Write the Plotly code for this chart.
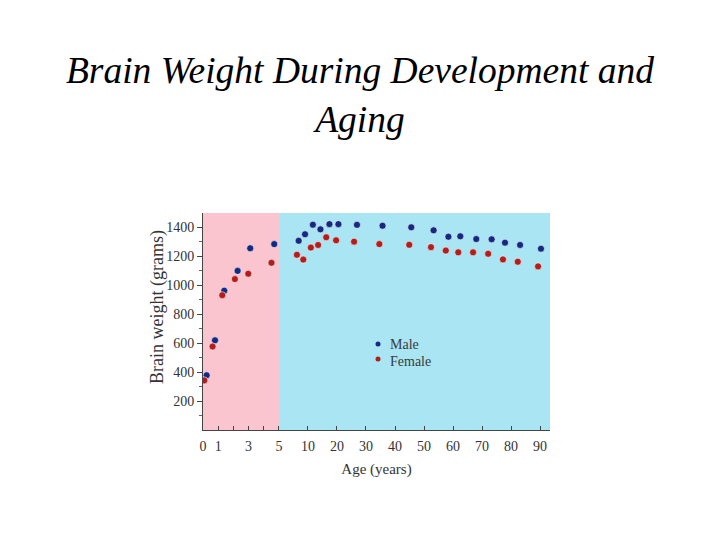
import numpy as np
import plotly.graph_objects as go

# ---- data ----
male_age = [0.24, 0.79, 1.40, 2.28, 3.11, 4.69, 8.4, 9.5, 11.7, 14.3, 17.4, 20.5,
            26.9, 35.7, 45.6, 53.3, 58.4, 62.5, 68.0, 73.3, 77.9, 83.1, 90.3]
male_wt = [378, 620, 963, 1100, 1256, 1285, 1308, 1353, 1419, 1387, 1423, 1423,
           1418, 1412, 1401, 1380, 1336, 1339, 1320, 1318, 1295, 1279, 1253]
female_age = [0.09, 0.63, 1.27, 2.10, 2.98, 4.51, 8.1, 9.2, 11.0, 13.5, 16.3, 19.7,
              25.9, 34.6, 44.9, 52.4, 57.5, 61.8, 66.9, 72.1, 77.2, 82.3, 89.3]
female_wt = [343, 577, 932, 1043, 1080, 1156, 1211, 1178, 1261, 1279, 1332, 1311,
             1302, 1285, 1280, 1264, 1240, 1228, 1228, 1218, 1179, 1163, 1131]

series_names = ["Male", "Female"]
x_tick_ages = [0, 1, 2, 3, 4, 5, 10, 20, 30, 40, 50, 60, 70, 80, 90]
x_tick_text = ["0", "1", "", "3", "", "5", "10", "20", "30", "40", "50", "60", "70", "80", "90"]
y_tick_vals = [200, 400, 600, 800, 1000, 1200, 1400]

# ---- broken age scale: 0-5 linear (1 unit/yr), then equal-width segments 5-10, 10-20, ... ----
SEG = 1.911
scale_ages = [0, 5, 10, 20, 30, 40, 50, 60, 70, 80, 90, 100]
scale_pos = [0, 5] + [5 + SEG * i for i in range(1, 11)]


def age_scale(a):
    return np.interp(np.asarray(a, dtype=float), scale_ages, scale_pos)


X_END = 22.85
serif = "Liberation Serif, Times New Roman, serif"
male_col = "#14297f"
female_col = "#b01e1e"
text_col = "#333333"

fig = go.Figure()
for name, ages, wts, col in [(series_names[0], male_age, male_wt, male_col),
                             (series_names[1], female_age, female_wt, female_col)]:
    fig.add_trace(go.Scatter(x=age_scale(ages), y=wts, mode="markers", name=name, showlegend=False,
                             marker=dict(color=col, size=7,
                                         line=dict(color="rgba(255,255,255,0.55)", width=1))))

fig.add_shape(type="rect", xref="x", yref="paper", x0=0, x1=5, y0=0, y1=1,
              fillcolor="#fac5ce", line_width=0, layer="below")
fig.add_shape(type="rect", xref="x", yref="paper", x0=5, x1=X_END, y0=0, y1=1,
              fillcolor="#a9e5f3", line_width=0, layer="below")

# in-plot key (as in the printed figure)
PW, PH, L, T = 347, 217, 203, 213


def px_x(p):
    return (p - L) / PW


def px_y(p):
    return 1 - (p - T) / PH


for name, col, ym, yt in [(series_names[0], male_col, 344, 344), (series_names[1], female_col, 359, 361)]:
    fig.add_shape(type="circle", xref="paper", yref="paper",
                  x0=px_x(375.5), x1=px_x(380.5), y0=px_y(ym + 2.5), y1=px_y(ym - 2.5),
                  fillcolor=col, line_width=0)
    fig.add_annotation(text=name, xref="paper", yref="paper", x=px_x(388), y=px_y(yt),
                       xanchor="left", yanchor="middle", showarrow=False,
                       font=dict(family=serif, size=14, color="#3a3a3a"))

# y-axis title
fig.add_annotation(text="Brain weight (grams)", xref="paper", yref="paper",
                   x=px_x(157), y=px_y(307), xanchor="center", yanchor="middle",
                   textangle=-90, showarrow=False,
                   font=dict(family=serif, size=18, color=text_col))

fig.update_layout(
    width=720, height=540,
    margin=dict(l=L, r=720 - L - PW, t=T, b=540 - T - PH),
    paper_bgcolor="white", plot_bgcolor="rgba(0,0,0,0)",
    title=dict(text="<i>Brain Weight During Development and</i><br><i>Aging</i>",
               x=0.5, xref="container", xanchor="center",
               y=1 - 83 / 540, yref="container", yanchor="middle",
               font=dict(family=serif, size=37.5, color="black")),
    font=dict(family=serif, size=14, color=text_col),
    showlegend=False,
)
fig.update_xaxes(range=[0, X_END], tickmode="array",
                 tickvals=age_scale(x_tick_ages), ticktext=x_tick_text,
                 showgrid=False, zeroline=False, showline=True, linecolor="#444444", linewidth=1,
                 ticks="inside", ticklen=4, tickcolor="#444444", ticklabelstandoff=3,
                 tickfont=dict(family=serif, size=14, color=text_col),
                 title=dict(text="Age (years)", font=dict(family=serif, size=15, color=text_col),
                            standoff=10))
fig.update_yaxes(range=[0, 1500], tickmode="array", tickvals=y_tick_vals,
                 showgrid=False, zeroline=False, showline=True, linecolor="#444444", linewidth=1,
                 ticks="outside", ticklen=5, tickcolor="#444444",
                 minor=dict(tickvals=[100, 300, 500, 700, 900, 1100, 1300], ticks="outside",
                            ticklen=3, tickcolor="#666666"),
                 tickfont=dict(family=serif, size=14, color=text_col))

fig.write_html("out.html")
